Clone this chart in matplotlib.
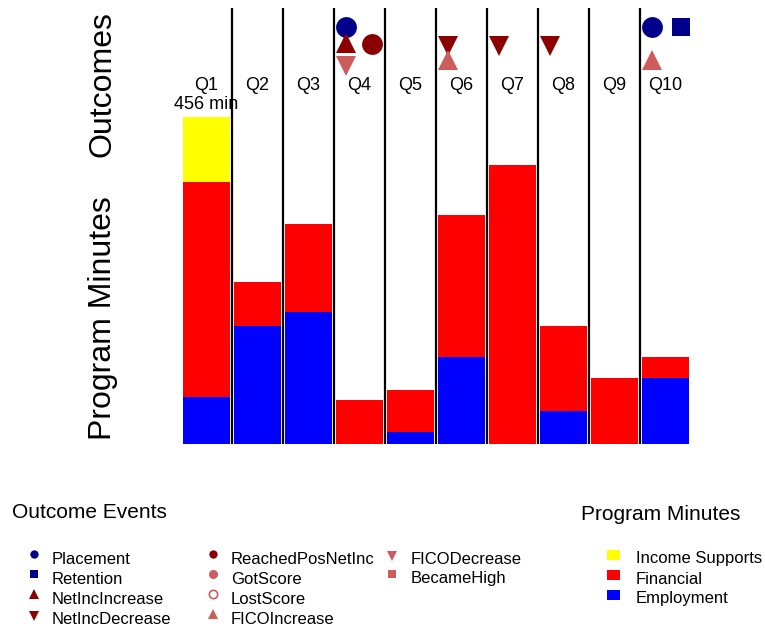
import matplotlib
matplotlib.use("Agg")
import matplotlib.pyplot as plt

plt.rcParams['font.family'] = ['Liberation Sans', 'DejaVu Sans']

# ---------------- data ----------------
quarters = ["Q1", "Q2", "Q3", "Q4", "Q5", "Q6", "Q7", "Q8", "Q9", "Q10"]
employment = [66, 165, 184, 0, 17, 121, 0, 46, 0, 92]
financial = [300, 61, 123, 61, 59, 199, 389, 119, 92, 29]
income_supports = [90, 0, 0, 0, 0, 0, 0, 0, 0, 0]

placement_q = ["Q4", "Q10"]
retention_q = ["Q10"]
netinc_increase_q = ["Q4"]
netinc_decrease_q = ["Q6", "Q7", "Q8"]
reached_pos_netinc_q = ["Q4"]
got_score_q = []
lost_score_q = []
fico_increase_q = ["Q6", "Q10"]
fico_decrease_q = ["Q4"]
became_high_q = []

event_names = ["Placement", "Retention", "NetIncIncrease", "NetIncDecrease",
               "ReachedPosNetInc", "GotScore", "LostScore", "FICOIncrease",
               "FICODecrease", "BecameHigh"]
event_quarters = [placement_q, retention_q, netinc_increase_q, netinc_decrease_q,
                  reached_pos_netinc_q, got_score_q, lost_score_q, fico_increase_q,
                  fico_decrease_q, became_high_q]

# ---------------- styles ----------------
NAVY = "#00008B"
DRED = "#8B0000"
IRED = "#CD5C5C"
# marker, color, filled, x offset within column, y (px from top), size
event_style = {
    "Placement":        ("o", NAVY, True, -0.27, 27, 15),
    "Retention":        ("s", NAVY, True, 0.30, 27, 13.5),
    "NetIncIncrease":   ("^", DRED, True, -0.27, 43, 15),
    "NetIncDecrease":   ("v", DRED, True, -0.27, 46, 15),
    "ReachedPosNetInc": ("o", DRED, True, 0.25, 44, 15),
    "GotScore":         ("o", IRED, True, 0.25, 60, 15),
    "LostScore":        ("o", IRED, False, 0.25, 60, 15),
    "FICOIncrease":     ("^", IRED, True, -0.27, 60, 15),
    "FICODecrease":     ("v", IRED, True, -0.27, 66, 15),
    "BecameHigh":       ("s", IRED, True, 0.30, 60, 13.5),
}
legend_style = {
    "Placement": ("o", 6), "Retention": ("s", 5.5), "NetIncIncrease": ("^", 7.5),
    "NetIncDecrease": ("v", 7.5), "ReachedPosNetInc": ("o", 6), "GotScore": ("o", 6.5),
    "LostScore": ("o", 6), "FICOIncrease": ("^", 7.5), "FICODecrease": ("v", 7.5),
    "BecameHigh": ("s", 5.5),
}

W, H = 765, 631
fig = plt.figure(figsize=(W / 100, H / 100), dpi=100)


def fr(x0, y_top, x1, y_bot):
    return [x0 / W, 1 - y_bot / H, (x1 - x0) / W, (y_bot - y_top) / H]


xs = list(range(len(quarters)))

# main bar axes
ax = fig.add_axes(fr(181, 8, 691, 444))
ax.set_xlim(-0.5, len(quarters) - 0.5)
ax.set_ylim(0, 608)
bw = 0.92
ax.bar(xs, employment, width=bw, color="#0000FF", linewidth=0)
ax.bar(xs, financial, width=bw, bottom=employment, color="#FF0000", linewidth=0)
bottom2 = [e + f for e, f in zip(employment, financial)]
ax.bar(xs, income_supports, width=bw, bottom=bottom2, color="#FFFF00", linewidth=0)
totals = [b + i for b, i in zip(bottom2, income_supports)]
imax = totals.index(max(totals))
ax.annotate(f"{max(totals)} min", (xs[imax], totals[imax]), xytext=(0, 3),
            textcoords="offset points", ha="center", va="bottom", fontsize=13)
for i in range(len(quarters) - 1):
    ax.axvline(i + 0.5, color="black", lw=1.6, zorder=3)
ax.axis("off")

# outcomes axes (y in px from top)
axo = fig.add_axes(fr(181, 0, 691, 100))
axo.set_xlim(-0.5, len(quarters) - 0.5)
axo.set_ylim(100, 0)
axo.axis("off")
for name, qs in zip(event_names, event_quarters):
    m, c, filled, dx, yy, ms = event_style[name]
    for q in qs:
        xi = quarters.index(q)
        axo.plot(xi + dx, yy, marker=m, markersize=ms, color=c,
                 markerfacecolor=c if filled else "none", markeredgewidth=0 if filled else 1.5,
                 linestyle="none", zorder=5, clip_on=False)
for xi, q in zip(xs, quarters):
    axo.text(xi, 86, q, ha="center", va="center", fontsize=13)

# axis titles
fig.text(103 / W, 1 - 84 / H, "Outcomes", rotation=90, ha="center", va="center", fontsize=23)
fig.text(103 / W, 1 - 318 / H, "Program Minutes", rotation=90, ha="center", va="center", fontsize=23)

# legends (overlay axes in px)
axl = fig.add_axes([0, 0, 1, 1])
axl.set_xlim(0, W)
axl.set_ylim(H, 0)
axl.axis("off")
axl.patch.set_alpha(0)

axl.text(12, 513, "Outcome Events", fontsize=15, ha="left", va="center")
col_marker_x = [34, 213, 392]
col_text_x = [52, 231, 411]
row_y = [559, 579, 599, 619]
for k, name in enumerate(event_names):
    col, row = divmod(k, 4)
    m, ms = legend_style[name]
    c = event_style[name][1]
    filled = event_style[name][2]
    my = row_y[row] - (3 if m == "v" else 5)
    axl.plot(col_marker_x[col], my, marker=m, markersize=ms, color=c,
             markerfacecolor=c if filled else "none", markeredgewidth=0 if filled else 1.2,
             linestyle="none")
    axl.text(col_text_x[col], row_y[row], name, fontsize=12, ha="left", va="center")

axl.text(581, 514, "Program Minutes", fontsize=15, ha="left", va="center")
pm_names = ["Income Supports", "Financial", "Employment"]
pm_colors = ["#FFFF00", "#FF0000", "#0000FF"]
for r, (n, c) in enumerate(zip(pm_names, pm_colors)):
    yy = row_y[r]
    axl.add_patch(plt.Rectangle((607, yy - 9), 13, 10, color=c, lw=0))
    axl.text(636, yy, n, fontsize=12, ha="left", va="center")

fig.savefig("out.png", dpi=100)
